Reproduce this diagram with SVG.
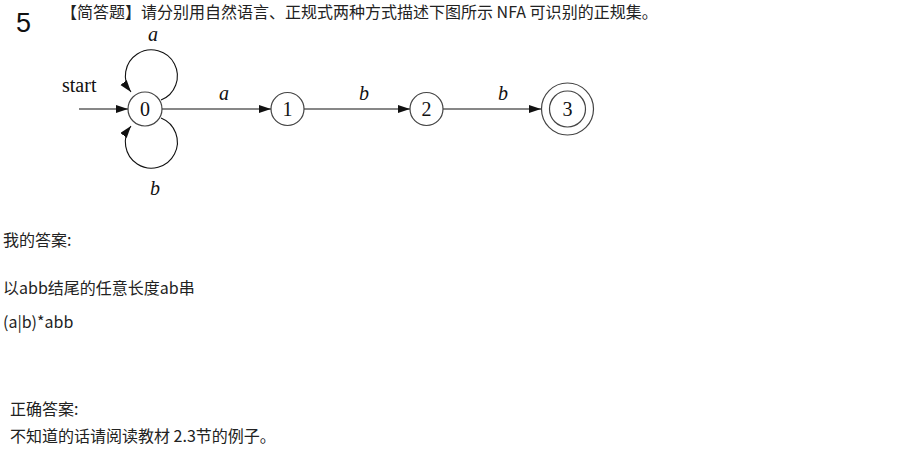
<svg xmlns="http://www.w3.org/2000/svg" width="916" height="451" viewBox="0 0 916 451">
<style>
.cn{font-family:"Noto Sans CJK SC","Noto Sans",sans-serif;font-size:16px;fill:#222}
.node{fill:#fff;stroke:#444;stroke-width:1.2}
.nl{font-family:"Liberation Serif",serif;font-size:20px;fill:#111;text-anchor:middle}
.el{font-family:"Liberation Serif",serif;font-size:20px;font-style:italic;fill:#111;text-anchor:middle}
.edge{fill:none;stroke:#111;stroke-width:1.1}
</style>
<defs>
<marker id="ah" markerUnits="userSpaceOnUse" markerWidth="14" markerHeight="10" refX="12" refY="4" orient="auto">
<path d="M0,0 L12,4 L0,8 Z" fill="#111"/>
</marker>
</defs>
<rect width="916" height="451" fill="#fff"/>
<text x="16" y="32" font-family="Liberation Sans,Arial,sans-serif" font-size="27" fill="#111">5</text>
<text class="cn" x="61" y="18">【简答题】请分别用自然语言、正规式两种方式描述下图所示 NFA 可识别的正规集。</text>
<g id="connectors">
<path class="edge" d="M79,109 L128,109" marker-end="url(#ah)"/>
<path class="edge" d="M161,100 A26 26 0 1 0 131,92" marker-end="url(#ah)"/>
<path class="edge" d="M161,118 A26 26 0 1 1 131,126" marker-end="url(#ah)"/>
<path class="edge" d="M162,109 L271,109" marker-end="url(#ah)"/>
<path class="edge" d="M304,109 L410,109" marker-end="url(#ah)"/>
<path class="edge" d="M443,109 L541,109" marker-end="url(#ah)"/>
<text x="62" y="92" font-family="Liberation Serif,serif" font-size="20" fill="#111">start</text>
<text class="el" x="153" y="41" font-size="18">a</text>
<text class="el" x="155" y="195">b</text>
<text class="el" x="224" y="100">a</text>
<text class="el" x="364" y="100">b</text>
<text class="el" x="503" y="100">b</text>
</g>
<g id="n0"><circle class="node" cx="145" cy="109" r="17"/><text class="nl" x="145" y="116">0</text></g>
<g id="n1"><circle class="node" cx="287.5" cy="109" r="16.5"/><text class="nl" x="287.5" y="116">1</text></g>
<g id="n2"><circle class="node" cx="426.5" cy="109" r="16.5"/><text class="nl" x="426.5" y="116">2</text></g>
<g id="n3"><circle class="node" cx="567.5" cy="109" r="26"/><circle class="node" cx="567.5" cy="109" r="18"/><text class="nl" x="567.5" y="116">3</text></g>
<text class="cn" x="3" y="246">我的答案:</text>
<text class="cn" x="3" y="294">以abb结尾的任意长度ab串</text>
<text class="cn" x="3" y="328">(a|b)*abb</text>
<text class="cn" x="10" y="415">正确答案:</text>
<text class="cn" x="10" y="442">不知道的话请阅读教材 2.3节的例子。</text>
</svg>
